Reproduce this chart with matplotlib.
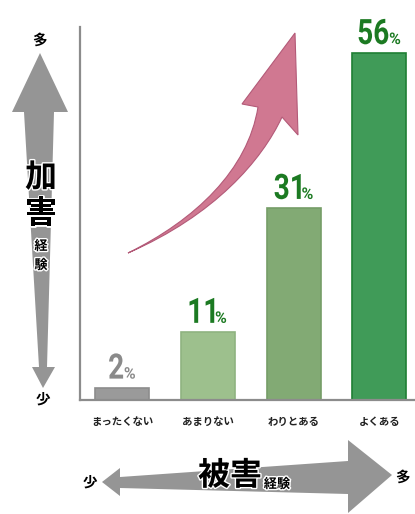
import matplotlib
matplotlib.use('Agg')
import matplotlib.pyplot as plt
from matplotlib.font_manager import FontProperties
from matplotlib.path import Path
from matplotlib.patches import PathPatch, Polygon
from matplotlib.textpath import TextPath
from matplotlib.transforms import Affine2D, ScaledTranslation
import matplotlib.patheffects as pe

# data
categories = ['まったくない', 'あまりない', 'わりとある', 'よくある']
values = [2, 11, 31, 56]
bar_colors = ['#9a9a9a', '#9dc08d', '#82aa74', '#409b58']
edge_colors = ['#8c8c8c', '#8fb380', '#759d67', '#1f7f34']
label_colors = ['#8a8a8a', '#1c7a22', '#1c7a22', '#1c7a22']

plt.rcParams['font.family'] = ['Noto Sans CJK JP', 'DejaVu Sans']

W, H = 415, 514
fig = plt.figure(figsize=(W / 100, H / 100), dpi=100)

# main bar chart
ax = fig.add_axes([80 / W, 1 - 400 / H, (W - 80) / W, 373 / H])
x = range(len(values))
ax.bar(x, values, width=0.63, color=bar_colors, edgecolor=edge_colors, linewidth=1.2)
ax.set_xlim(-0.49, 3.415)
ax.set_ylim(0, 60.2)
for s in ['top', 'right']:
    ax.spines[s].set_visible(False)
for s in ['left', 'bottom']:
    ax.spines[s].set_color('#8c8c8c')
    ax.spines[s].set_linewidth(1.6)
ax.set_yticks([])
ax.set_xticks(list(x))
ax.set_xticklabels(categories, fontsize=7.5, fontweight='bold', color='#222222')
ax.tick_params(axis='x', length=0, pad=12)

# value labels: tall narrow digits + small %, drawn as text paths (pixels)
fp = FontProperties(family='Roboto', weight='bold')
for i, v in enumerate(values):
    num = TextPath((0, 0), str(v), size=35, prop=fp)
    pct = TextPath((0, 0), '%', size=16, prop=fp)
    ne, pe_ = num.get_extents(), pct.get_extents()
    sx = 0.8
    wn = ne.width * sx
    gap = 1.5
    total = wn + gap + pe_.width
    x0 = -total / 2
    anchor = ScaledTranslation(i, v, ax.transData)
    tn = Affine2D().translate(-ne.x0, 0).scale(sx, 1).translate(x0, 9) + anchor
    tp = Affine2D().translate(-pe_.x0, 0).translate(x0 + wn + gap, 9) + anchor
    ax.add_patch(PathPatch(num, transform=tn, facecolor=label_colors[i], edgecolor='none', clip_on=False))
    ax.add_patch(PathPatch(pct, transform=tp, facecolor=label_colors[i], edgecolor='none', clip_on=False))

# decorations in pixel coordinates
dax = fig.add_axes([0, 0, 1, 1])
dax.set_xlim(0, W)
dax.set_ylim(H, 0)
dax.axis('off')

gray = '#959595'
halo = [pe.withStroke(linewidth=2, foreground='white')]

# vertical arrow (加害経験)
varrow = [(40, 53), (68, 112), (54, 112), (47, 367), (55, 367), (43, 388),
          (32, 367), (39, 367), (24, 112), (12, 112)]
dax.add_patch(Polygon(varrow, closed=True, facecolor=gray, edgecolor='none'))
dax.text(40, 40, '多', ha='center', va='center', fontsize=10.5, fontweight='bold')
dax.text(43, 399, '少', ha='center', va='center', fontsize=10.5, fontweight='bold')
dax.text(41, 178, '加', ha='center', va='center', fontsize=23, fontweight='bold', path_effects=halo)
dax.text(41, 214, '害', ha='center', va='center', fontsize=23, fontweight='bold', path_effects=halo)
dax.text(41, 246, '経', ha='center', va='center', fontsize=9.5, fontweight='bold', path_effects=halo)
dax.text(41, 265, '験', ha='center', va='center', fontsize=9.5, fontweight='bold', path_effects=halo)

# horizontal arrow (被害経験)
harrow = [(102, 482), (120, 468), (120, 477), (348, 461), (348, 440), (392, 475),
          (348, 513), (348, 494), (120, 488), (120, 496)]
dax.add_patch(Polygon(harrow, closed=True, facecolor=gray, edgecolor='none'))
dax.text(90, 482, '少', ha='center', va='center', fontsize=10.5, fontweight='bold')
dax.text(403, 477, '多', ha='center', va='center', fontsize=10.5, fontweight='bold')
dax.text(230, 476, '被害', ha='center', va='center', fontsize=23, fontweight='bold', path_effects=halo)
dax.text(277, 484, '経験', ha='center', va='center', fontsize=9.5, fontweight='bold', path_effects=halo)

# pink curved arrow
verts = [(128, 253), (195, 220), (248, 170), (258, 107),
         (242, 104), (295, 33), (298, 135), (282, 117),
         (262, 160), (215, 215), (128, 253), (128, 253)]
codes = [Path.MOVETO, Path.CURVE4, Path.CURVE4, Path.CURVE4,
         Path.LINETO, Path.LINETO, Path.LINETO, Path.LINETO,
         Path.CURVE4, Path.CURVE4, Path.CURVE4, Path.CLOSEPOLY]
dax.add_patch(PathPatch(Path(verts, codes), facecolor='#d07891', edgecolor='#b35a78', linewidth=0.8))

fig.savefig('out.png', dpi=100)
